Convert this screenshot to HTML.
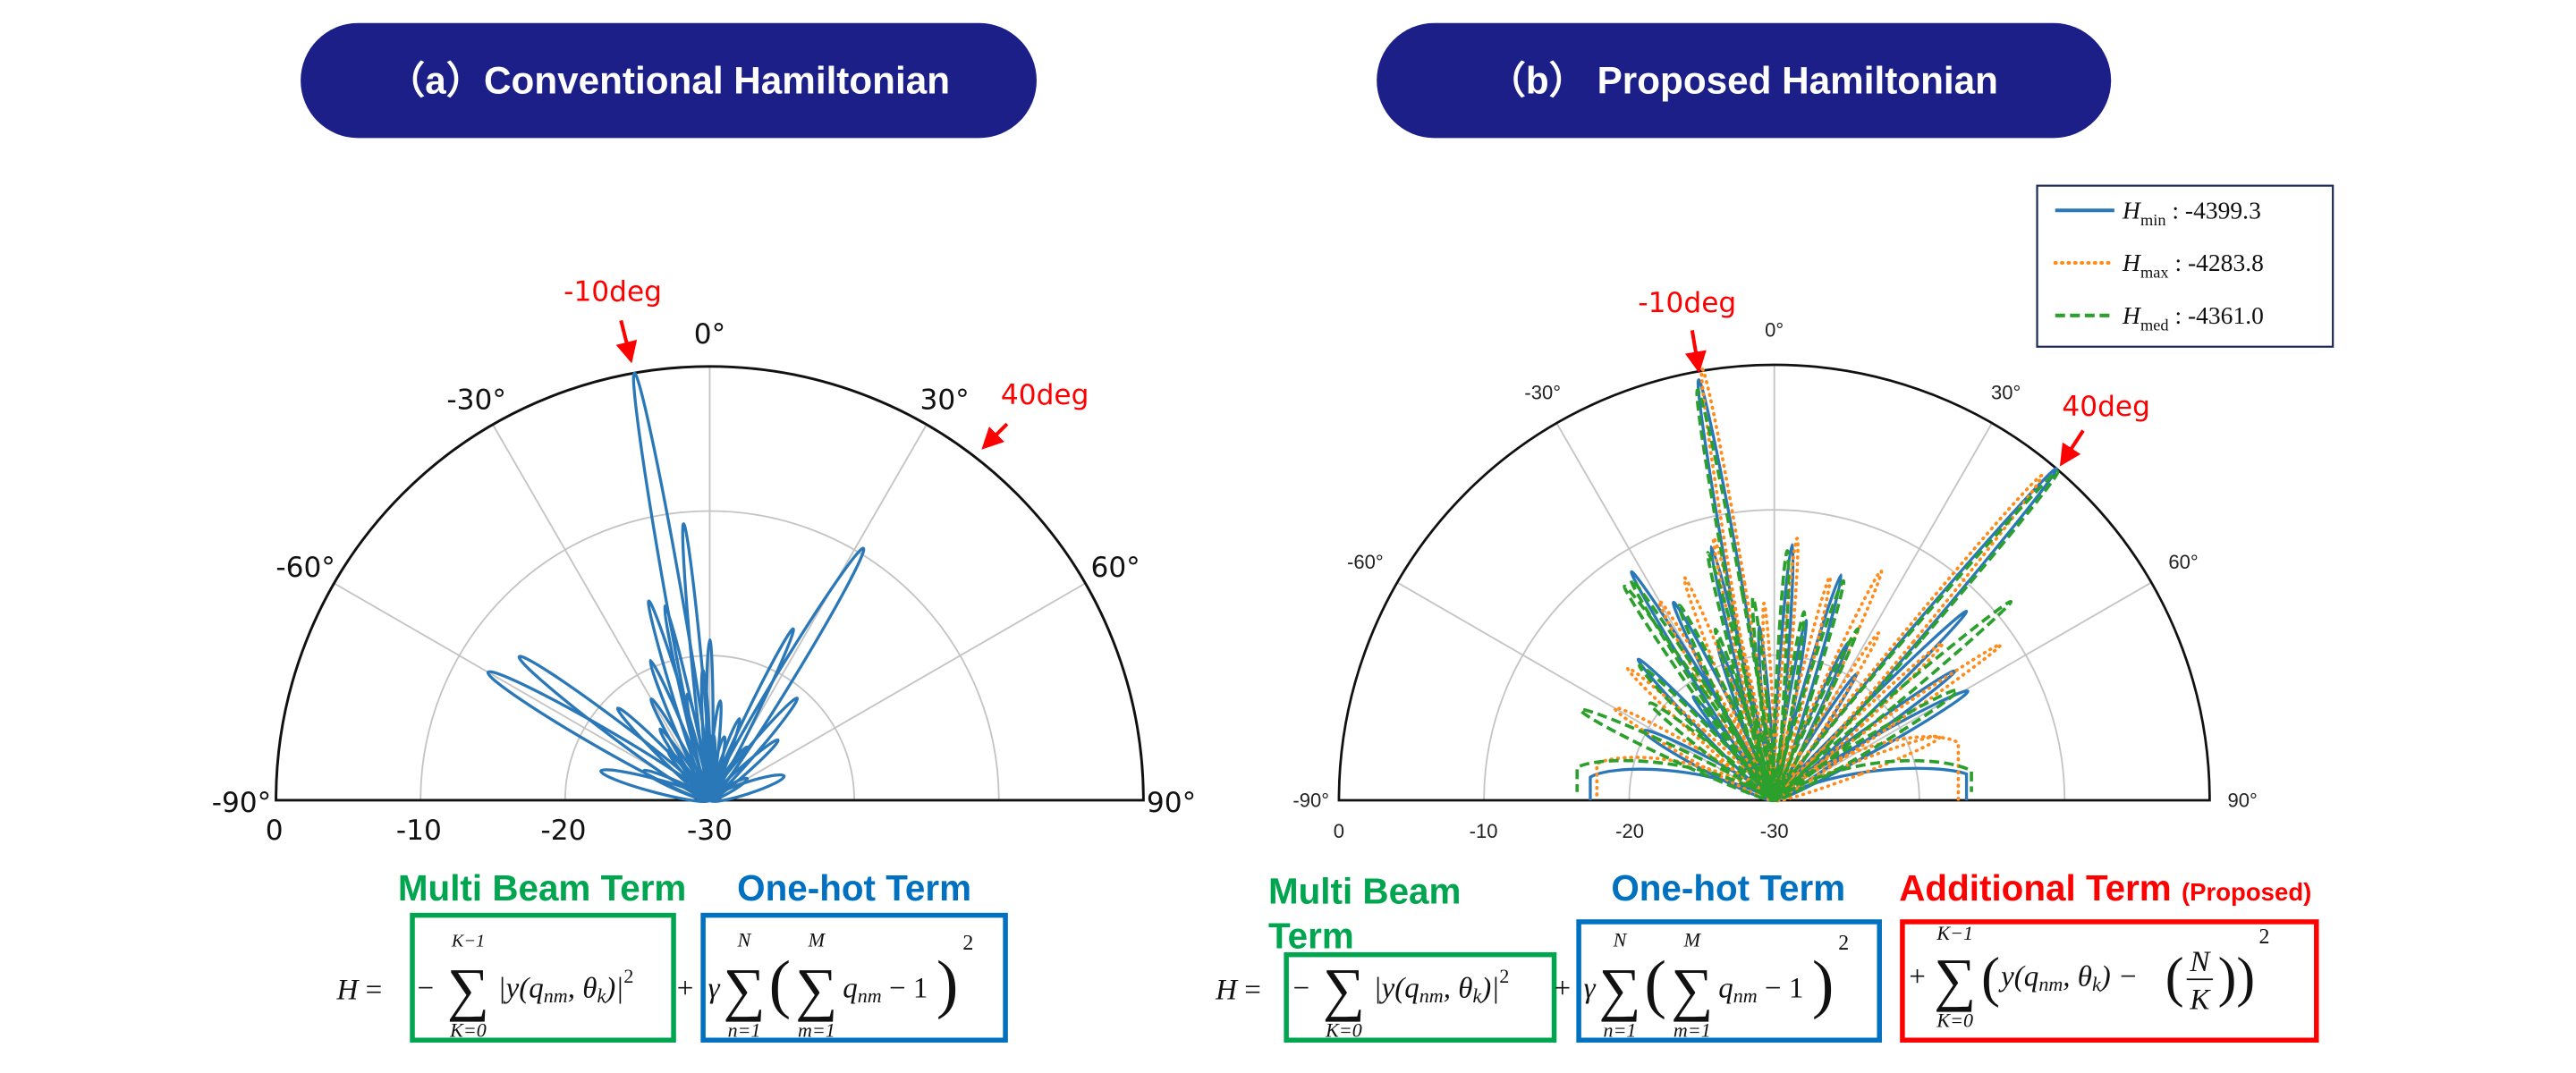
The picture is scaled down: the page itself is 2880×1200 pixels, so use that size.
<!DOCTYPE html>
<html><head><meta charset="utf-8"><style>html,body{margin:0;padding:0;background:#fff;width:2880px;height:1200px;overflow:hidden}svg{display:block}</style></head>
<body>
<svg width="2880" height="1200" viewBox="0 0 1568 653" preserveAspectRatio="none" xmlns="http://www.w3.org/2000/svg" font-family="Liberation Sans, sans-serif">
<defs>
<marker id="ah" markerWidth="6" markerHeight="6" refX="5" refY="3" orient="auto" markerUnits="strokeWidth"><path d="M0,0 L6,3 L0,6 z" fill="#f00"/></marker>
</defs>
<rect x="183" y="14" width="448" height="70" rx="35" fill="#1c1f87"/>
<text x="407" y="57" text-anchor="middle" fill="#fff" font-size="23" font-weight="bold">（a）Conventional Hamiltonian</text>
<rect x="838" y="14" width="447" height="70" rx="35" fill="#1c1f87"/>
<text x="1061" y="57" text-anchor="middle" fill="#fff" font-size="23" font-weight="bold">（b） Proposed Hamiltonian</text>

<g transform="translate(432,487)" fill="none">
<g stroke="#c4c4c4" stroke-width="1">
<path d="M-176,0 A176,176 0 0 1 176,0"/><path d="M-88,0 A88,88 0 0 1 88,0"/>
<line x1="0" y1="0" x2="0" y2="-264"/><line x1="0" y1="0" x2="-132" y2="-228.6"/><line x1="0" y1="0" x2="132" y2="-228.6"/><line x1="0" y1="0" x2="-228.6" y2="-132"/><line x1="0" y1="0" x2="228.6" y2="-132"/>
</g>
<path d="M-264,0 A264,264 0 0 1 264,0 Z" stroke="#111" stroke-width="1.6"/>
<g stroke="#2a78b8" stroke-width="1.8">
<ellipse transform="rotate(-10)" cy="-132" ry="132" rx="5"/>
<ellipse transform="rotate(-5.4)" cy="-84.5" ry="84.5" rx="3"/>
<ellipse transform="rotate(-17)" cy="-63.4" ry="63.4" rx="3"/>
<ellipse transform="rotate(-13)" cy="-60.7" ry="60.7" rx="2.5"/>
<ellipse transform="rotate(0)" cy="-48.8" ry="48.8" rx="2"/>
<ellipse transform="rotate(-23)" cy="-46.2" ry="46.2" rx="2.5"/>
<ellipse transform="rotate(-30)" cy="-35.6" ry="35.6" rx="2.5"/>
<ellipse transform="rotate(-45)" cy="-39.6" ry="39.6" rx="3"/>
<ellipse transform="rotate(6)" cy="-30.4" ry="30.4" rx="2"/>
<ellipse transform="rotate(13)" cy="-19.8" ry="19.8" rx="2"/>
<ellipse transform="rotate(-12)" cy="-33" ry="33" rx="2"/>
<ellipse transform="rotate(-60)" cy="-77.9" ry="77.9" rx="6"/>
<ellipse transform="rotate(-53)" cy="-72.6" ry="72.6" rx="5"/>
<ellipse transform="rotate(-75)" cy="-34.3" ry="34.3" rx="4"/>
<ellipse transform="rotate(31.4)" cy="-89.8" ry="89.8" rx="5"/>
<ellipse transform="rotate(26)" cy="-58" ry="58" rx="3"/>
<ellipse transform="rotate(40.6)" cy="-40.9" ry="40.9" rx="3"/>
<ellipse transform="rotate(48.6)" cy="-27.7" ry="27.7" rx="2.5"/>
<ellipse transform="rotate(72)" cy="-23.8" ry="23.8" rx="3.5"/>
<ellipse transform="rotate(20)" cy="-26.4" ry="26.4" rx="2"/>
<ellipse transform="rotate(-35)" cy="-26.4" ry="26.4" rx="2"/>
<ellipse transform="rotate(-3)" cy="-39.6" ry="39.6" rx="2"/>
<ellipse transform="rotate(35)" cy="-19.8" ry="19.8" rx="2"/>
<ellipse transform="rotate(-40)" cy="-19.8" ry="19.8" rx="2"/>
<ellipse transform="rotate(60)" cy="-13.2" ry="13.2" rx="2"/>
<ellipse transform="rotate(-66)" cy="-22" ry="22" rx="2.5"/>
<ellipse transform="rotate(3)" cy="-20" ry="20" rx="2"/>
</g>
</g>
<g font-size="17" fill="#111" font-family="DejaVu Sans, sans-serif" text-anchor="middle">
<text x="432" y="209">0°</text><text x="290" y="249">-30°</text><text x="575" y="249">30°</text>
<text x="186" y="351">-60°</text><text x="679" y="351">60°</text>
<text x="147" y="494">-90°</text><text x="713" y="494">90°</text>
<text x="167" y="511">0</text><text x="255" y="511">-10</text><text x="343" y="511">-20</text><text x="432" y="511">-30</text>
</g>
<text x="373" y="183" text-anchor="middle" fill="#f00" font-size="17" font-family="DejaVu Sans, sans-serif">-10deg</text>
<line x1="378" y1="195" x2="384" y2="219" stroke="#f00" stroke-width="2.2" marker-end="url(#ah)"/>
<text x="636" y="246" text-anchor="middle" fill="#f00" font-size="17" font-family="DejaVu Sans, sans-serif">40deg</text>
<line x1="613" y1="258" x2="599" y2="272" stroke="#f00" stroke-width="2.2" marker-end="url(#ah)"/>

<g transform="translate(1080,487)" fill="none">
<g stroke="#c4c4c4" stroke-width="1">
<path d="M-176.7,0 A176.7,176.7 0 0 1 176.7,0"/><path d="M-88.3,0 A88.3,88.3 0 0 1 88.3,0"/>
<line x1="0" y1="0" x2="0" y2="-265"/><line x1="0" y1="0" x2="-132.5" y2="-229.5"/><line x1="0" y1="0" x2="132.5" y2="-229.5"/><line x1="0" y1="0" x2="-229.5" y2="-132.5"/><line x1="0" y1="0" x2="229.5" y2="-132.5"/>
</g>
<path d="M-265,0 A265,265 0 0 1 265,0 Z" stroke="#111" stroke-width="1.5"/>
<g stroke="#2a78b8" stroke-width="1.8">
<ellipse transform="rotate(-10.2)" cy="-130" ry="130" rx="4"/>
<ellipse transform="rotate(4)" cy="-78" ry="78" rx="2.5"/>
<ellipse transform="rotate(16.5)" cy="-71.5" ry="71.5" rx="2.5"/>
<ellipse transform="rotate(-32)" cy="-82" ry="82" rx="3"/>
<ellipse transform="rotate(-14)" cy="-79.5" ry="79.5" rx="2.5"/>
<ellipse transform="rotate(-27)" cy="-67.6" ry="67.6" rx="3"/>
<ellipse transform="rotate(-44)" cy="-59.6" ry="59.6" rx="3"/>
<ellipse transform="rotate(-62)" cy="-45" ry="45" rx="4"/>
<ellipse transform="rotate(40.4)" cy="-132.5" ry="132.5" rx="4"/>
<ellipse transform="rotate(45.5)" cy="-82" ry="82" rx="3"/>
<ellipse transform="rotate(60.6)" cy="-67.6" ry="67.6" rx="4"/>
<ellipse transform="rotate(54.4)" cy="-67.6" ry="67.6" rx="3"/>
<ellipse transform="rotate(-5)" cy="-53" ry="53" rx="2"/>
<ellipse transform="rotate(10)" cy="-55.6" ry="55.6" rx="2"/>
<ellipse transform="rotate(-20)" cy="-50" ry="50" rx="2"/>
<ellipse transform="rotate(25)" cy="-53" ry="53" rx="2"/>
<ellipse transform="rotate(-38)" cy="-40" ry="40" rx="2"/>
<ellipse transform="rotate(33)" cy="-46" ry="46" rx="2"/>
<path d="M0,0 C-40,-22 -100,-22 -112,-14 L-112,0"/>
<path d="M0,0 C40,-22 100,-22 117,-16 L117,0"/>
</g>
<g stroke="#ff8c1a" stroke-width="2" stroke-dasharray="0.5 3.5" stroke-linecap="round">
<ellipse transform="rotate(-9.5)" cy="-133" ry="133" rx="4"/>
<ellipse transform="rotate(5)" cy="-80" ry="80" rx="2.5"/>
<ellipse transform="rotate(25)" cy="-77" ry="77" rx="3"/>
<ellipse transform="rotate(55.5)" cy="-83.5" ry="83.5" rx="3"/>
<ellipse transform="rotate(69)" cy="-54" ry="54" rx="4"/>
<ellipse transform="rotate(-48)" cy="-60" ry="60" rx="3"/>
<ellipse transform="rotate(-60)" cy="-56" ry="56" rx="4"/>
<ellipse transform="rotate(-22)" cy="-73" ry="73" rx="3"/>
<ellipse transform="rotate(-13)" cy="-82" ry="82" rx="2.5"/>
<ellipse transform="rotate(-30)" cy="-70" ry="70" rx="3"/>
<ellipse transform="rotate(39.5)" cy="-128" ry="128" rx="4"/>
<ellipse transform="rotate(14)" cy="-70" ry="70" rx="2.5"/>
<ellipse transform="rotate(32)" cy="-60" ry="60" rx="2.5"/>
<ellipse transform="rotate(-3)" cy="-60" ry="60" rx="2"/>
<ellipse transform="rotate(47)" cy="-70" ry="70" rx="3"/>
<path d="M0,0 C-40,-28 -95,-30 -108,-22 L-108,0"/>
<path d="M0,0 C40,-35 95,-45 112,-35 L112,0"/>
</g>
<g stroke="#2ca02c" stroke-width="2" stroke-dasharray="6 3">
<ellipse transform="rotate(-10.6)" cy="-127" ry="127" rx="4"/>
<ellipse transform="rotate(3)" cy="-76" ry="76" rx="2.5"/>
<ellipse transform="rotate(17.5)" cy="-70" ry="70" rx="2.5"/>
<ellipse transform="rotate(-33)" cy="-80" ry="80" rx="3"/>
<ellipse transform="rotate(-15)" cy="-78" ry="78" rx="2.5"/>
<ellipse transform="rotate(-26)" cy="-66" ry="66" rx="3"/>
<ellipse transform="rotate(-45)" cy="-58" ry="58" rx="3"/>
<ellipse transform="rotate(-65)" cy="-65" ry="65" rx="4"/>
<ellipse transform="rotate(40.8)" cy="-132" ry="132" rx="4"/>
<ellipse transform="rotate(50)" cy="-94" ry="94" rx="3"/>
<ellipse transform="rotate(-35)" cy="-79.5" ry="79.5" rx="3"/>
<ellipse transform="rotate(59)" cy="-65" ry="65" rx="4"/>
<ellipse transform="rotate(-6)" cy="-62" ry="62" rx="2"/>
<ellipse transform="rotate(9)" cy="-58" ry="58" rx="2"/>
<ellipse transform="rotate(-19)" cy="-55" ry="55" rx="2"/>
<ellipse transform="rotate(26)" cy="-58" ry="58" rx="2"/>
<ellipse transform="rotate(-52)" cy="-48" ry="48" rx="3"/>
<path d="M0,0 C-40,-26 -105,-28 -120,-20 L-120,-5"/>
<path d="M0,0 C40,-28 100,-28 120,-18 L120,-5"/>
</g>
</g>
<g font-size="12" fill="#222" text-anchor="middle">
<text x="1080" y="205">0°</text><text x="939" y="243">-30°</text><text x="1221" y="243">30°</text>
<text x="831" y="346">-60°</text><text x="1329" y="346">60°</text>
<text x="798" y="491">-90°</text><text x="1365" y="491">90°</text>
<text x="815" y="510">0</text><text x="903" y="510">-10</text><text x="992" y="510">-20</text><text x="1080" y="510">-30</text>
</g>
<text x="1027" y="190" text-anchor="middle" fill="#f00" font-size="17" font-family="DejaVu Sans, sans-serif">-10deg</text>
<line x1="1030" y1="201" x2="1034" y2="225" stroke="#f00" stroke-width="2.2" marker-end="url(#ah)"/>
<text x="1282" y="253" text-anchor="middle" fill="#f00" font-size="17" font-family="DejaVu Sans, sans-serif">40deg</text>
<line x1="1268" y1="262" x2="1255" y2="282" stroke="#f00" stroke-width="2.2" marker-end="url(#ah)"/>

<rect x="1240" y="113" width="180" height="98" fill="#fff" stroke="#1c2a5a" stroke-width="1.2"/>
<g font-family="Liberation Serif, serif" font-size="15" fill="#111">
<line x1="1251" y1="128" x2="1287" y2="128" stroke="#2a78b8" stroke-width="2.2"/>
<text x="1292" y="133"><tspan font-style="italic">H</tspan><tspan font-size="10" dy="4">min</tspan><tspan dy="-4"> : -4399.3</tspan></text>
<line x1="1251" y1="160" x2="1287" y2="160" stroke="#ff8c1a" stroke-width="2.2" stroke-dasharray="0.5 3.5" stroke-linecap="round"/>
<text x="1292" y="165"><tspan font-style="italic">H</tspan><tspan font-size="10" dy="4">max</tspan><tspan dy="-4"> : -4283.8</tspan></text>
<line x1="1251" y1="192" x2="1287" y2="192" stroke="#2ca02c" stroke-width="2.2" stroke-dasharray="6 3"/>
<text x="1292" y="197"><tspan font-style="italic">H</tspan><tspan font-size="10" dy="4">med</tspan><tspan dy="-4"> : -4361.0</tspan></text>
</g>

<g font-weight="bold" font-size="22">
<text x="330" y="548" text-anchor="middle" fill="#00a550">Multi Beam Term</text>
<text x="520" y="548" text-anchor="middle" fill="#0070c0">One-hot Term</text>
<text x="772" y="550" fill="#00a550">Multi Beam</text>
<text x="772" y="577" fill="#00a550">Term</text>
<text x="1052" y="548" text-anchor="middle" fill="#0070c0">One-hot Term</text>
<text x="1156" y="548" fill="#f00">Additional Term <tspan font-size="15">(Proposed)</tspan></text>
</g>

<g fill="none" stroke-width="3">
<rect x="251" y="557" width="159" height="76" stroke="#00a550"/>
<rect x="428" y="557" width="184" height="76" stroke="#0070c0"/>
<rect x="783" y="581" width="163" height="52" stroke="#00a550"/>
<rect x="961" y="561" width="183" height="72" stroke="#0070c0"/>
<rect x="1158" y="561" width="252" height="72" stroke="#f00"/>
</g>

<g font-family="Liberation Serif, serif" fill="#111" font-size="18">
<text x="205" y="608"><tspan font-style="italic">H</tspan> =</text>
<text x="254" y="607">−</text>
<text x="285" y="614" font-size="36" text-anchor="middle">∑</text>
<text x="285" y="576" font-size="11" text-anchor="middle" font-style="italic">K−1</text>
<text x="285" y="631" font-size="12" text-anchor="middle" font-style="italic">K=0</text>
<text x="303" y="607" font-style="italic">|y(q<tspan font-size="12" dy="3">nm</tspan><tspan dy="-3">, θ</tspan><tspan font-size="12" dy="3">k</tspan><tspan dy="-3">)|</tspan><tspan font-size="12" dy="-9" font-style="normal">2</tspan></text>
<text x="412" y="607">+</text>
<text x="431" y="607" font-style="italic">γ</text>
<text x="453" y="614" font-size="36" text-anchor="middle">∑</text>
<text x="453" y="576" font-size="12" text-anchor="middle" font-style="italic">N</text>
<text x="453" y="631" font-size="12" text-anchor="middle" font-style="italic">n=1</text>
<text x="468" y="612" font-size="40">(</text>
<text x="497" y="614" font-size="36" text-anchor="middle">∑</text>
<text x="497" y="576" font-size="12" text-anchor="middle" font-style="italic">M</text>
<text x="497" y="631" font-size="12" text-anchor="middle" font-style="italic">m=1</text>
<text x="513" y="607" font-style="italic">q<tspan font-size="12" dy="3">nm</tspan><tspan dy="-3" font-style="normal"> − 1</tspan></text>
<text x="570" y="612" font-size="40">)</text>
<text x="586" y="578" font-size="13">2</text>
<text x="740" y="608"><tspan font-style="italic">H</tspan> =</text>
<text x="787" y="607">−</text>
<text x="818" y="614" font-size="36" text-anchor="middle">∑</text>
<text x="818" y="631" font-size="12" text-anchor="middle" font-style="italic">K=0</text>
<text x="836" y="607" font-style="italic">|y(q<tspan font-size="12" dy="3">nm</tspan><tspan dy="-3">, θ</tspan><tspan font-size="12" dy="3">k</tspan><tspan dy="-3">)|</tspan><tspan font-size="12" dy="-9" font-style="normal">2</tspan></text>
<text x="946" y="607">+</text>
<text x="964" y="607" font-style="italic">γ</text>
<text x="986" y="614" font-size="36" text-anchor="middle">∑</text>
<text x="986" y="576" font-size="12" text-anchor="middle" font-style="italic">N</text>
<text x="986" y="631" font-size="12" text-anchor="middle" font-style="italic">n=1</text>
<text x="1001" y="612" font-size="40">(</text>
<text x="1030" y="614" font-size="36" text-anchor="middle">∑</text>
<text x="1030" y="576" font-size="12" text-anchor="middle" font-style="italic">M</text>
<text x="1030" y="631" font-size="12" text-anchor="middle" font-style="italic">m=1</text>
<text x="1046" y="607" font-style="italic">q<tspan font-size="12" dy="3">nm</tspan><tspan dy="-3" font-style="normal"> − 1</tspan></text>
<text x="1103" y="612" font-size="40">)</text>
<text x="1119" y="578" font-size="13">2</text>
<text x="1162" y="600">+</text>
<text x="1190" y="608" font-size="36" text-anchor="middle">∑</text>
<text x="1190" y="572" font-size="12" text-anchor="middle" font-style="italic">K−1</text>
<text x="1190" y="625" font-size="12" text-anchor="middle" font-style="italic">K=0</text>
<text x="1206" y="606" font-size="34">(</text>
<text x="1218" y="600" font-style="italic">y(q<tspan font-size="12" dy="3">nm</tspan><tspan dy="-3">, θ</tspan><tspan font-size="12" dy="3">k</tspan><tspan dy="-3">) − </tspan></text>
<text x="1318" y="606" font-size="34">(</text>
<text x="1339" y="591" font-style="italic" text-anchor="middle">N</text>
<line x1="1331" y1="596" x2="1347" y2="596" stroke="#111" stroke-width="1"/>
<text x="1339" y="614" font-style="italic" text-anchor="middle">K</text>
<text x="1350" y="606" font-size="34">))</text>
<text x="1375" y="574" font-size="13">2</text>
</g>
</svg>
</body></html>
